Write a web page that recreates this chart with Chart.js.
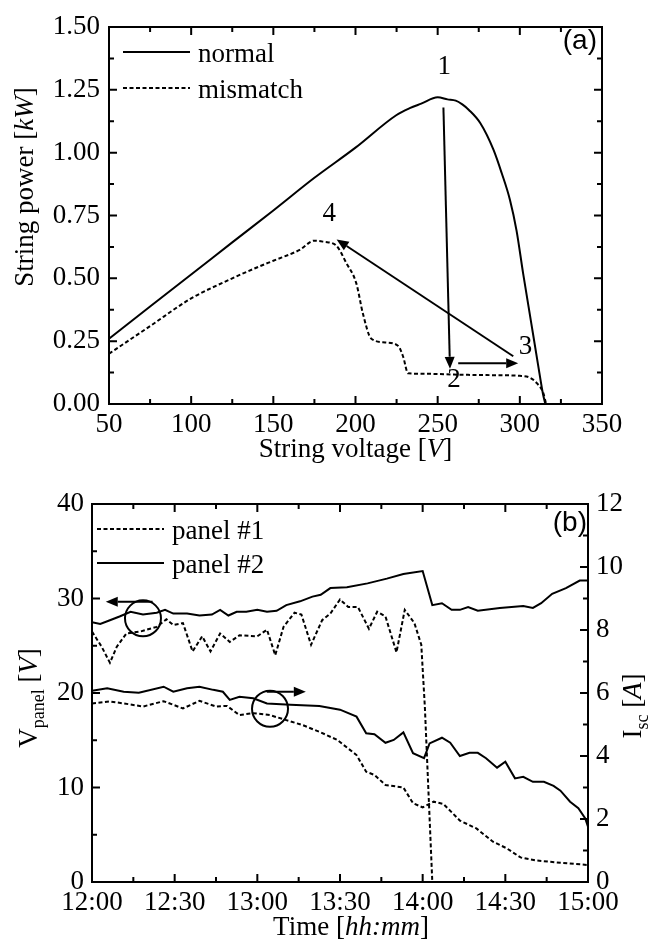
<!DOCTYPE html>
<html>
<head>
<meta charset="utf-8">
<script src="https://cdn.jsdelivr.net/npm/chart.js@4.4.1/dist/chart.umd.min.js"></script>
<style>
  html, body { margin: 0; padding: 0; background: #fff; }
  canvas { display: block; }
</style>
</head>
<body>
<canvas id="chartA" width="654" height="470"></canvas>
<canvas id="chartB" width="654" height="479"></canvas>
<script>
// ---- (a) string P-V curves ----
const voltNormal = [50, 75, 100, 125, 150, 175, 200, 225, 233, 240, 250, 256, 261, 265, 269, 276, 284, 289, 294, 298, 302, 307, 311, 314, 315.5];
const powerNormal = [0.26, 0.388, 0.515, 0.643, 0.77, 0.9, 1.02, 1.15, 1.177, 1.195, 1.22, 1.212, 1.207, 1.192, 1.17, 1.117, 1.011, 0.918, 0.812, 0.69, 0.52, 0.32, 0.16, 0.043, 0];
const voltMismatch = [50, 75, 100, 125, 141, 150, 166, 175, 181, 188, 194.5, 200.5, 204.5, 209.5, 218, 226, 229, 232, 245, 260, 280, 300, 306, 310.5, 314.3, 316];
const powerMismatch = [0.2, 0.31, 0.42, 0.5, 0.546, 0.57, 0.613, 0.65, 0.645, 0.632, 0.56, 0.48, 0.36, 0.261, 0.245, 0.231, 0.188, 0.122, 0.12, 0.117, 0.115, 0.112, 0.105, 0.082, 0.043, 0];

// arrows 1->2->3->4 : [fromV, fromP, toV, toP]
const arrowsA = [[253.5, 1.18, 257.5, 0.14], [262.5, 0.162, 299, 0.162], [296, 0.19, 188.5, 0.655]];
const pointLabelsA = [['1', 254, 1.342], ['2', 260, 0.095], ['3', 303.5, 0.228], ['4', 184, 0.756]];

// ---- (b) panel voltage / short circuit current, minutes after 12:00 ----
const timeTickLabels = ['12:00', '12:30', '13:00', '13:30', '14:00', '14:30', '15:00'];

const tVolt1 = [0, 3.5, 6.5, 9, 12.5, 17.5, 23.5, 27, 29.5, 33, 36.5, 40, 43, 46.5, 50, 53.5, 60, 63.5, 66.5, 69.5, 73.5, 76, 79.5, 83.5, 86.5, 90, 93, 96.5, 100.5, 103.5, 106.5, 110.5, 113.5, 117, 119.5, 120.8, 123.5];
const voltPanel1 = [26.5, 24.9, 23.2, 24.9, 26.3, 26.5, 27.0, 27.8, 27.2, 27.4, 24.4, 26.0, 24.4, 26.3, 25.4, 26.1, 26.0, 26.7, 24.0, 27.0, 28.5, 28.3, 25.1, 27.7, 28.4, 29.9, 29.1, 29.1, 26.8, 28.6, 28.1, 24.3, 28.8, 27.4, 25.1, 18.5, 0];

const tVolt2 = [0, 3, 6.5, 10, 14, 18.5, 23.5, 26.5, 29.5, 34.5, 39, 43.5, 46.5, 49.5, 52.5, 56, 60, 63.5, 67, 70.5, 75.5, 80, 83, 86.5, 92.5, 100, 107, 113, 120, 123.5, 127, 130.5, 133.5, 136.5, 140, 148, 156.5, 160, 163, 167, 172, 177, 180];
const voltPanel2 = [27.5, 27.3, 27.7, 28.1, 28.6, 28.3, 28.5, 28.8, 28.4, 28.4, 28.2, 28.3, 28.8, 28.2, 28.6, 28.6, 28.8, 28.6, 28.7, 29.3, 29.7, 30.2, 30.4, 31.1, 31.2, 31.6, 32.1, 32.6, 32.9, 29.3, 29.5, 28.8, 28.8, 29.1, 28.7, 29.0, 29.2, 29.0, 29.5, 30.5, 31.1, 31.9, 31.9];

const tIsc1 = [0, 6.5, 11.5, 18.5, 26, 33, 39, 45, 49, 53.5, 58.5, 64.5, 70.5, 76.5, 83, 89, 96, 99.5, 102.5, 106.5, 113, 116.5, 120, 124, 127.5, 133.5, 139.5, 145.5, 150.5, 155.5, 161.5, 170, 180];
const iscPanel1 = [5.67, 5.73, 5.67, 5.57, 5.74, 5.51, 5.75, 5.57, 5.59, 5.3, 5.36, 5.3, 5.14, 4.98, 4.75, 4.51, 4.03, 3.5, 3.4, 3.08, 3.0, 2.5, 2.37, 2.55, 2.48, 1.95, 1.7, 1.28, 1.07, 0.78, 0.68, 0.61, 0.54];

const tIsc2 = [0, 5.5, 11.5, 17, 26, 29.5, 34.5, 39, 44, 47.5, 50, 53.5, 58.5, 63.5, 72, 82.5, 90, 96, 99.5, 102.5, 106.5, 109.5, 113, 116.5, 120.5, 122.5, 127, 130, 133.5, 137, 140, 143, 147, 150, 153.5, 156.5, 160, 164, 167.5, 170, 173.5, 176.5, 179, 180];
const iscPanel2 = [6.07, 6.15, 6.04, 6.01, 6.2, 6.04, 6.15, 6.2, 6.1, 6.04, 5.78, 5.88, 5.83, 5.67, 5.63, 5.59, 5.47, 5.25, 4.72, 4.69, 4.42, 4.51, 4.75, 4.09, 3.93, 4.4, 4.58, 4.42, 4.0, 4.1, 4.1, 3.93, 3.63, 3.82, 3.29, 3.34, 3.18, 3.18, 3.05, 2.9, 2.55, 2.34, 2.02, 1.76];

// circles [t, value, axis] and arrows [t1, v1, t2, v2, axis]
const circlesB = [[18.5, 27.9, 'y'], [64.6, 5.5, 'y1']];
const arrowsB = [[22, 29.66, 5, 29.66, 'y'], [63.4, 6.04, 77.6, 6.04, 'y1']];

const SERIF = "'Liberation Serif', 'Times New Roman', serif";
const DASH = [4, 2.5];
const tickFont = { family: SERIF, size: 27 };

Chart.defaults.font.family = SERIF;
Chart.defaults.font.size = 27;
Chart.defaults.color = '#000';

function xy(xs, ys) {
    return xs.map((x, i) => ({ x: x, y: ys[i] }));
}

// rich text: segments with italic / subscript, centered at (cx, base)
function drawRich(ctx, segs, cx, base, angle) {
    const fontOf = s => (s.it ? 'italic ' : '') + (s.sub ? '18px ' : '27px ') + SERIF;
    ctx.save();
    ctx.translate(cx, base);
    ctx.rotate(angle || 0);
    ctx.fillStyle = '#000';
    ctx.textBaseline = 'alphabetic';
    ctx.textAlign = 'left';
    let total = 0;
    const widths = segs.map(s => { ctx.font = fontOf(s); const w = ctx.measureText(s.t).width; total += w; return w; });
    let x = -total / 2;
    segs.forEach((s, i) => {
        ctx.font = fontOf(s);
        ctx.fillText(s.t, x, s.sub ? 7 : 0);
        x += widths[i];
    });
    ctx.restore();
}

function drawArrow(ctx, x1, y1, x2, y2) {
    const ang = Math.atan2(y2 - y1, x2 - x1);
    const hl = 12, hw = 5;
    const bx = x2 - hl * Math.cos(ang), by = y2 - hl * Math.sin(ang);
    ctx.beginPath();
    ctx.moveTo(x1, y1);
    ctx.lineTo(bx, by);
    ctx.stroke();
    ctx.beginPath();
    ctx.moveTo(x2, y2);
    ctx.lineTo(bx + hw * Math.sin(ang), by - hw * Math.cos(ang));
    ctx.lineTo(bx - hw * Math.sin(ang), by + hw * Math.cos(ang));
    ctx.closePath();
    ctx.fill();
}

// inward ticks on a scale, major + minor
function drawTicks(ctx, chart, id, major, minor, sides) {
    const sc = chart.scales[id];
    const a = chart.chartArea;
    for (let v = sc.min; v <= sc.max + 1e-9; v += minor) {
        const isMajor = Math.abs(v / major - Math.round(v / major)) < 1e-6;
        const len = isMajor ? 8 : 5;
        const p = sc.getPixelForValue(v);
        ctx.beginPath();
        sides.forEach(side => {
            if (side === 'bottom') { ctx.moveTo(p, a.bottom); ctx.lineTo(p, a.bottom - len); }
            if (side === 'top') { ctx.moveTo(p, a.top); ctx.lineTo(p, a.top + len); }
            if (side === 'left') { ctx.moveTo(a.left, p); ctx.lineTo(a.left + len, p); }
            if (side === 'right') { ctx.moveTo(a.right, p); ctx.lineTo(a.right - len, p); }
        });
        ctx.stroke();
    }
}

function drawLegend(ctx, a, items, dx, dy, gap) {
    items.forEach((it, i) => {
        const y = a.top + dy + i * gap;
        ctx.save();
        ctx.lineWidth = 2;
        ctx.setLineDash(it.dash);
        ctx.beginPath();
        ctx.moveTo(a.left + dx, y);
        ctx.lineTo(a.left + dx + 67, y);
        ctx.stroke();
        ctx.restore();
        ctx.font = '27px ' + SERIF;
        ctx.textAlign = 'left';
        ctx.textBaseline = 'alphabetic';
        ctx.fillText(it.label, a.left + dx + 75, y + 10);
    });
}

const decorA = {
    id: 'decorA',
    afterDraw(chart) {
        const ctx = chart.ctx, a = chart.chartArea;
        const sx = chart.scales.x, sy = chart.scales.y;
        ctx.save();
        ctx.strokeStyle = '#000';
        ctx.fillStyle = '#000';
        ctx.lineWidth = 2;
        ctx.strokeRect(a.left, a.top, a.right - a.left, a.bottom - a.top);
        drawTicks(ctx, chart, 'x', 50, 25, ['bottom', 'top']);
        drawTicks(ctx, chart, 'y', 0.25, 0.125, ['left', 'right']);

        arrowsA.forEach(r => drawArrow(ctx, sx.getPixelForValue(r[0]), sy.getPixelForValue(r[1]),
            sx.getPixelForValue(r[2]), sy.getPixelForValue(r[3])));
        ctx.font = '27px ' + SERIF;
        ctx.textAlign = 'center';
        ctx.textBaseline = 'middle';
        pointLabelsA.forEach(l => ctx.fillText(l[0], sx.getPixelForValue(l[1]), sy.getPixelForValue(l[2])));

        drawLegend(ctx, a, [{ label: 'normal', dash: [] }, { label: 'mismatch', dash: DASH }], 14, 25, 36);

        ctx.font = "28px 'Liberation Sans', Arial, sans-serif";
        ctx.textAlign = 'right';
        ctx.textBaseline = 'alphabetic';
        ctx.fillText('(a)', a.right - 5, a.top + 22);

        drawRich(ctx, [{ t: 'String voltage [' }, { t: 'V', it: true }, { t: ']' }], (a.left + a.right) / 2, 457);
        drawRich(ctx, [{ t: 'String power [' }, { t: 'kW', it: true }, { t: ']' }], 33, 187, -Math.PI / 2);
        ctx.restore();
    }
};

const decorB = {
    id: 'decorB',
    afterDraw(chart) {
        const ctx = chart.ctx, a = chart.chartArea;
        const sx = chart.scales.x;
        ctx.save();
        ctx.strokeStyle = '#000';
        ctx.fillStyle = '#000';
        ctx.lineWidth = 2;
        ctx.strokeRect(a.left, a.top, a.right - a.left, a.bottom - a.top);
        drawTicks(ctx, chart, 'x', 30, 15, ['bottom', 'top']);
        drawTicks(ctx, chart, 'y', 10, 5, ['left']);
        drawTicks(ctx, chart, 'y1', 2, 1, ['right']);

        circlesB.forEach(c => {
            ctx.beginPath();
            ctx.arc(sx.getPixelForValue(c[0]), chart.scales[c[2]].getPixelForValue(c[1]), 18, 0, Math.PI * 2);
            ctx.stroke();
        });
        arrowsB.forEach(r => {
            const sy = chart.scales[r[4]];
            drawArrow(ctx, sx.getPixelForValue(r[0]), sy.getPixelForValue(r[1]),
                sx.getPixelForValue(r[2]), sy.getPixelForValue(r[3]));
        });

        drawLegend(ctx, a, [{ label: 'panel #1', dash: DASH }, { label: 'panel #2', dash: [] }], 5, 25, 34);

        ctx.font = "28px 'Liberation Sans', Arial, sans-serif";
        ctx.textAlign = 'right';
        ctx.textBaseline = 'alphabetic';
        ctx.fillText('(b)', a.right - 1, a.top + 27);

        drawRich(ctx, [{ t: 'Time [' }, { t: 'hh:mm', it: true }, { t: ']' }], 351, 465);
        drawRich(ctx, [{ t: 'V' }, { t: 'panel', sub: true }, { t: ' [' }, { t: 'V', it: true }, { t: ']' }], 37, 228, -Math.PI / 2);
        drawRich(ctx, [{ t: 'I' }, { t: 'sc', sub: true }, { t: ' [' }, { t: 'A', it: true }, { t: ']' }], 641, 236, -Math.PI / 2);
        ctx.restore();
    }
};

const noGrid = { display: false, drawTicks: false };
const noBorder = { display: false };

new Chart(document.getElementById('chartA').getContext('2d'), {
    type: 'line',
    data: {
        datasets: [{
            label: 'normal',
            data: xy(voltNormal, powerNormal),
            borderColor: '#000',
            borderWidth: 2,
            pointRadius: 0,
            cubicInterpolationMode: 'monotone'
        }, {
            label: 'mismatch',
            data: xy(voltMismatch, powerMismatch),
            borderColor: '#000',
            borderWidth: 2,
            borderDash: DASH,
            pointRadius: 0,
            cubicInterpolationMode: 'monotone'
        }]
    },
    options: {
        responsive: false,
        animation: false,
        layout: { padding: { top: 27, right: 52, left: 0, bottom: 0 } },
        plugins: { legend: { display: false }, tooltip: { enabled: false } },
        scales: {
            x: {
                type: 'linear', min: 50, max: 350,
                grid: noGrid, border: noBorder,
                ticks: { font: tickFont, color: '#000', stepSize: 50, padding: 5, maxRotation: 0, autoSkip: false },
                afterFit(s) { s.height = 66; }
            },
            y: {
                min: 0, max: 1.5,
                grid: noGrid, border: noBorder,
                ticks: { font: tickFont, color: '#000', stepSize: 0.25, padding: 9, callback: v => Number(v).toFixed(2) },
                afterFit(s) { s.width = 109; }
            }
        }
    },
    plugins: [decorA]
});

new Chart(document.getElementById('chartB').getContext('2d'), {
    type: 'line',
    data: {
        datasets: [{
            label: 'panel #1',
            data: xy(tVolt1, voltPanel1),
            yAxisID: 'y',
            borderColor: '#000', borderWidth: 2, borderDash: DASH, pointRadius: 0
        }, {
            label: 'panel #2',
            data: xy(tVolt2, voltPanel2),
            yAxisID: 'y',
            borderColor: '#000', borderWidth: 2, pointRadius: 0
        }, {
            label: 'panel #1 Isc',
            data: xy(tIsc1, iscPanel1),
            yAxisID: 'y1',
            borderColor: '#000', borderWidth: 2, borderDash: DASH, pointRadius: 0
        }, {
            label: 'panel #2 Isc',
            data: xy(tIsc2, iscPanel2),
            yAxisID: 'y1',
            borderColor: '#000', borderWidth: 2, pointRadius: 0
        }]
    },
    options: {
        responsive: false,
        animation: false,
        layout: { padding: { top: 34, right: 0, left: 0, bottom: 0 } },
        plugins: { legend: { display: false }, tooltip: { enabled: false } },
        scales: {
            x: {
                type: 'linear', min: 0, max: 180,
                grid: noGrid, border: noBorder,
                ticks: { font: tickFont, color: '#000', stepSize: 30, padding: 5, maxRotation: 0, autoSkip: false,
                    callback: v => timeTickLabels[Math.round(v / 30)] },
                afterFit(s) { s.height = 67; }
            },
            y: {
                position: 'left', min: 0, max: 40,
                grid: noGrid, border: noBorder,
                ticks: { font: tickFont, color: '#000', stepSize: 10, padding: 8 },
                afterFit(s) { s.width = 92; }
            },
            y1: {
                position: 'right', min: 0, max: 12,
                grid: noGrid, border: noBorder,
                ticks: { font: tickFont, color: '#000', stepSize: 2, padding: 8 },
                afterFit(s) { s.width = 66; }
            }
        }
    },
    plugins: [decorB]
});
</script>
</body>
</html>
